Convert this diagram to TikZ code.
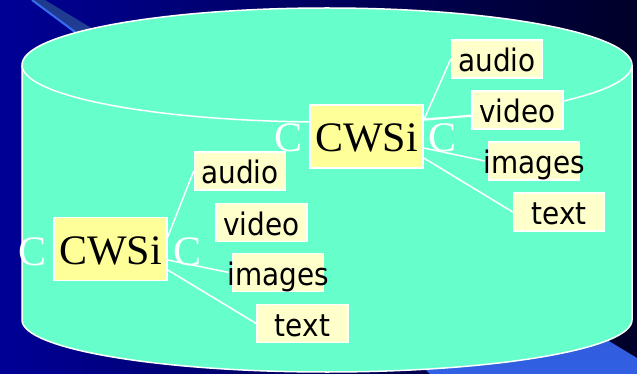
\documentclass[tikz,border=0pt]{standalone}
\usepackage{fontspec}
\setmainfont{Liberation Serif}
\newfontfamily\labfont[FakeStretch=0.9]{DejaVu Sans}
\usetikzlibrary{calc}
\definecolor{cyl}{RGB}{102,255,204}
\definecolor{bigyellow}{RGB}{255,255,153}
\definecolor{smallyellow}{RGB}{255,255,204}
\definecolor{bgleft}{RGB}{0,0,150}
\definecolor{bgright}{RGB}{0,0,40}
\definecolor{bandtop}{RGB}{30,58,140}
\definecolor{bandbot}{RGB}{50,96,228}
\definecolor{bandedge}{RGB}{58,108,240}
\pgfdeclarelayer{back}
\pgfdeclarelayer{mid}
\pgfsetlayers{back,mid,main}
\begin{document}
\begin{tikzpicture}[x=1pt,y=-1pt,
  big/.style={draw=white, line width=1.5pt, fill=bigyellow, minimum width=113pt, minimum height=63pt, inner sep=0pt, text height=31pt, text depth=0pt, font=\fontsize{42}{42}\selectfont},
  small/.style={draw=white, line width=1.5pt, fill=smallyellow, minimum width=91pt, minimum height=38pt, inner sep=0pt, text height=25pt, text depth=0pt, font=\labfont\fontsize{31}{31}\selectfont},
  cc/.style={text=white, font=\fontsize{42}{42}\selectfont, inner sep=0pt, anchor=base},
  wire/.style={draw=white, line width=1.5pt},
  rim/.style={draw=white, line width=1.5pt}]
\useasboundingbox (0,0) rectangle (637,374);
\begin{pgfonlayer}{back}
% background
\shade[left color=bgleft, right color=bgright] (0,0) rectangle (637,374);
\shade[top color=bandtop, bottom color=bandbot] (32,0) -- (45,0) -- (637,358) -- (637,374) -- (430,374) -- (75,32) -- cycle;
\draw[bandedge, line width=2pt] (32,0) -- (75,32) -- (200,160);
% cylinder
\path[fill=cyl, rim] (22,65) -- (22,320) arc[start angle=180, end angle=0, x radius=305, y radius=52]
  -- (632,65) arc[start angle=360, end angle=180, x radius=305, y radius=57] -- cycle;
\draw[rim] (22,65) arc[start angle=180, end angle=0, x radius=305, y radius=57];
\end{pgfonlayer}
% nodes upper group
\node[big] (cwsU) at (366.5,136.5) {CWSi};
\node[small] (audioU) at (497,59) {\makebox[0pt]{audio}};
\node[small] (videoU) at (517.5,110) {\makebox[0pt]{video}};
\node[small] (imagesU) at (534,161) {\makebox[0pt]{images}};
\node[small] (textU) at (559,212) {\makebox[0pt]{text}};
\node[cc] (cUl) at (289,152) {C};
\node[cc] (cUr) at (443,152) {C};
% nodes lower group
\node[big] (cwsL) at (110.5,249) {CWSi};
\node[small] (audioL) at (240,171) {\makebox[0pt]{audio}};
\node[small] (videoL) at (261.5,222.5) {\makebox[0pt]{video}};
\node[small] (imagesL) at (278,272.5) {\makebox[0pt]{images}};
\node[small] (textL) at (302.5,323.5) {\makebox[0pt]{text}};
\node[cc] (cLl) at (33,265) {C};
\node[cc] (cLr) at (188,265) {C};
% connectors
\begin{pgfonlayer}{mid}
\draw[wire] ($(cwsU.east)+(0,-16.5)$) -- (audioU.west);
\draw[wire] ($(cwsU.east)+(0,-16.5)$) -- ($(videoU.west)+(0,6)$);
\draw[wire] ($(cwsU.east)+(0,11.5)$) -- ($(imagesU.west)+(-3,0)$);
\draw[wire] ($(cwsU.east)+(0,21.5)$) -- (textU.west);
\draw[wire] ($(cwsL.east)+(0,-12)$) -- (audioL.west);
\draw[wire] ($(cwsL.east)+(0,11)$) -- ($(imagesL.west)+(-3,0)$);
\draw[wire] ($(cwsL.east)+(0,21)$) -- (textL.west);
\end{pgfonlayer}
\end{tikzpicture}
\end{document}
